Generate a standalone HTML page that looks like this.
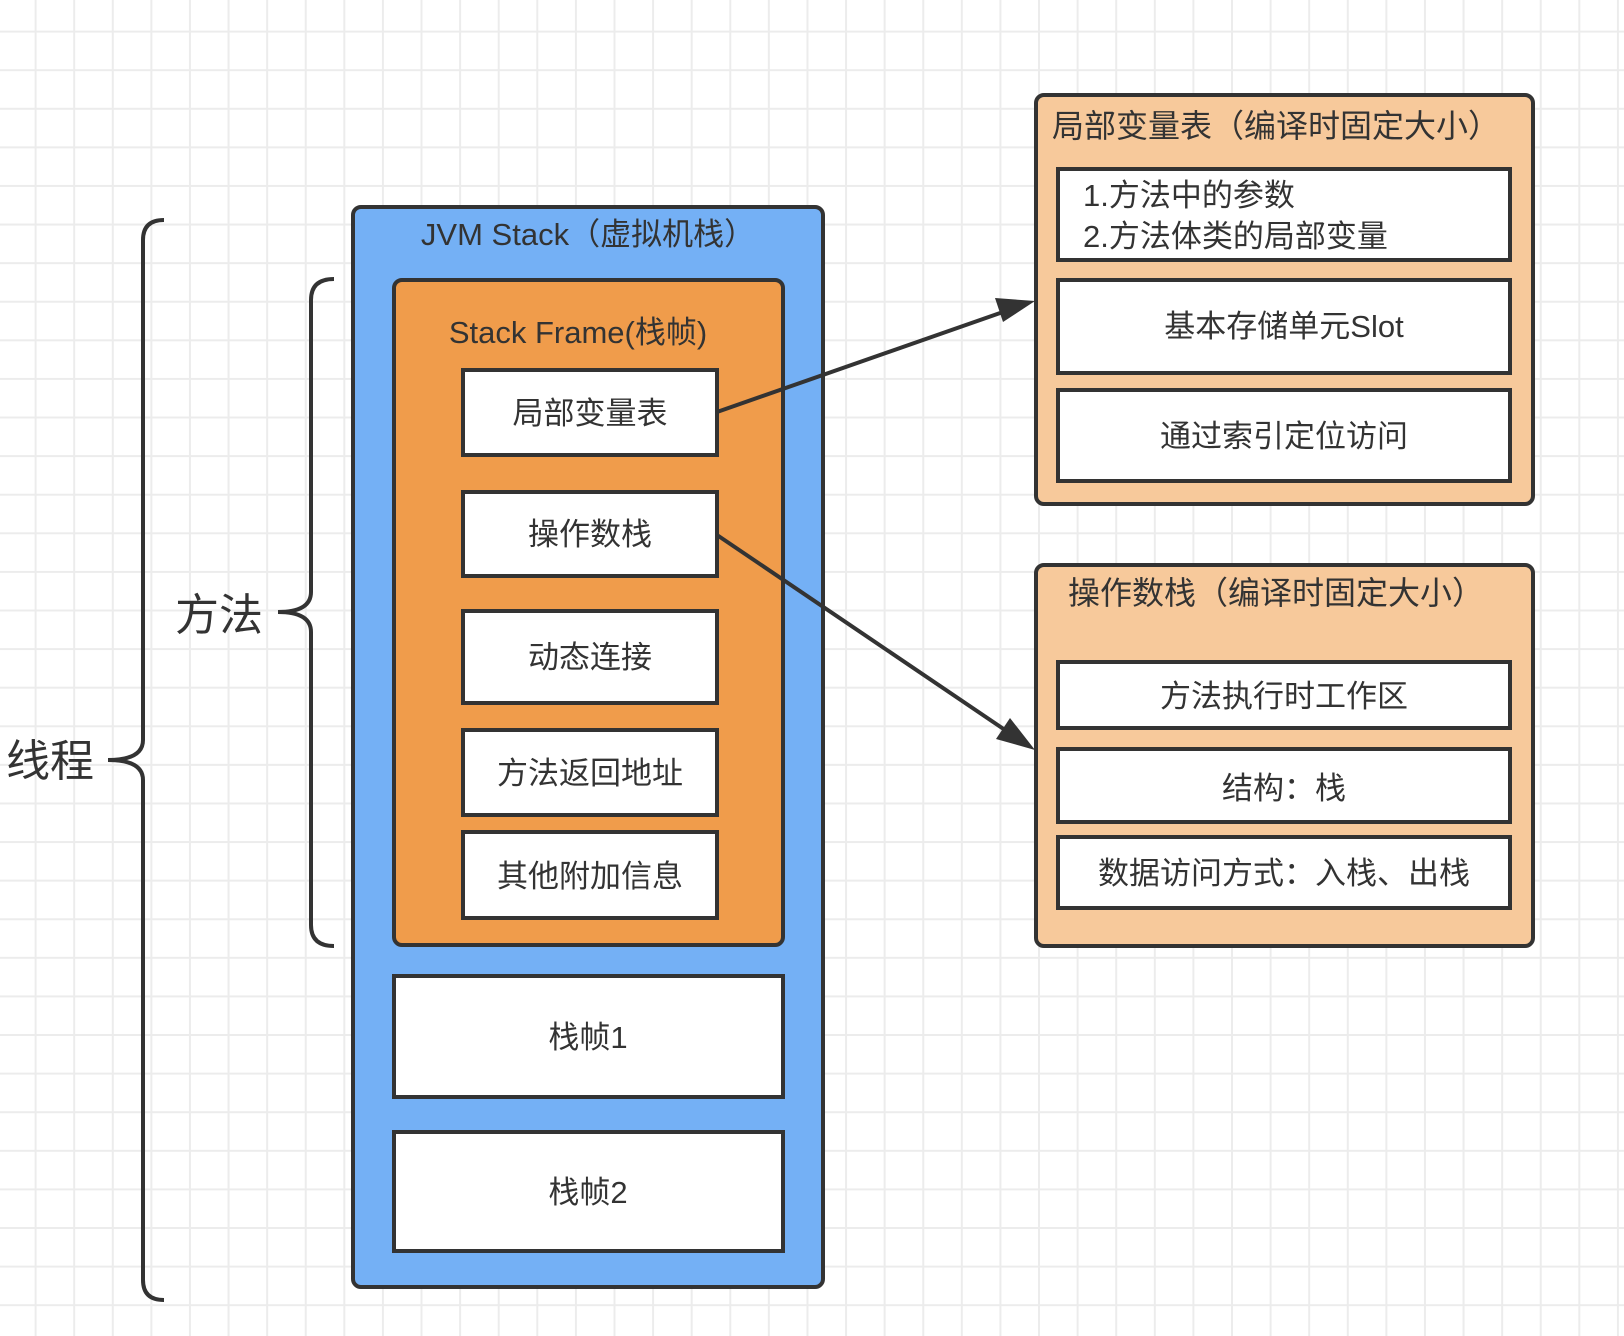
<!DOCTYPE html>
<html><head><meta charset="utf-8"><style>
html,body{margin:0;padding:0;}
body{width:1624px;height:1336px;overflow:hidden;background:#fff;
background-image:linear-gradient(to right,#ececec 2px,transparent 2px),linear-gradient(to bottom,#ececec 2px,transparent 2px);
background-size:38.6px 38.6px;background-position:-4px -8px;}
svg{position:absolute;left:0;top:0;}
text{font-family:"Liberation Sans","Noto Sans CJK SC",sans-serif;fill:#333;}
</style></head><body>
<svg width="1624" height="1336" viewBox="0 0 1624 1336">
<defs><marker id="ah" markerWidth="12" markerHeight="12" refX="10" refY="6" orient="auto" markerUnits="userSpaceOnUse"><path d="M0,0 L40,6 L0,12z" fill="#333" transform="scale(1)"/></marker></defs>
<!-- braces -->
<path d="M334 279 Q311 279 311 300 L311 592 Q311 612 278 612 Q311 612 311 632 L311 925 Q311 946 334 946" fill="none" stroke="#333" stroke-width="4"/>
<path d="M164 220 Q143 220 143 240 L143 740 Q143 760 108 760 Q143 760 143 780 L143 1280 Q143 1300 164 1300" fill="none" stroke="#333" stroke-width="4"/>
<text x="219" y="630" font-size="44" text-anchor="middle">方法</text>
<text x="50" y="776" font-size="44" text-anchor="middle">线程</text>
<!-- JVM stack -->
<rect x="353" y="207" width="470" height="1080" rx="8" fill="#74b0f5" stroke="#333" stroke-width="4"/>
<text x="588" y="245" font-size="31" text-anchor="middle">JVM Stack（虚拟机栈）</text>
<rect x="394" y="280" width="389" height="665" rx="8" fill="#f09c4b" stroke="#333" stroke-width="4"/>
<text x="578" y="343" font-size="31" text-anchor="middle">Stack Frame(栈帧)</text>
<g fill="#fff" stroke="#333" stroke-width="4">
<rect x="463" y="370" width="254" height="85"/>
<rect x="463" y="492" width="254" height="84"/>
<rect x="463" y="611" width="254" height="92"/>
<rect x="463" y="730" width="254" height="85"/>
<rect x="463" y="832" width="254" height="86"/>
<rect x="394" y="976" width="389" height="121"/>
<rect x="394" y="1132" width="389" height="119"/>
</g>
<g font-size="31" text-anchor="middle">
<text x="590" y="424">局部变量表</text>
<text x="590" y="545">操作数栈</text>
<text x="590" y="668">动态连接</text>
<text x="590" y="784">方法返回地址</text>
<text x="590" y="887">其他附加信息</text>
<text x="588" y="1048">栈帧1</text>
<text x="588" y="1203">栈帧2</text>
</g>
<!-- right boxes -->
<rect x="1036" y="95" width="497" height="409" rx="8" fill="#f7c99b" stroke="#333" stroke-width="4"/>
<text x="1052" y="137" font-size="32">局部变量表（编译时固定大小）</text>
<rect x="1036" y="565" width="497" height="381" rx="8" fill="#f7c99b" stroke="#333" stroke-width="4"/>
<text x="1068" y="604" font-size="32">操作数栈（编译时固定大小）</text>
<g fill="#fff" stroke="#333" stroke-width="4">
<rect x="1058" y="169" width="452" height="91"/>
<rect x="1058" y="280" width="452" height="93"/>
<rect x="1058" y="390" width="452" height="91"/>
<rect x="1058" y="662" width="452" height="66"/>
<rect x="1058" y="749" width="452" height="73"/>
<rect x="1058" y="837" width="452" height="71"/>
</g>
<g font-size="31">
<text x="1083" y="206">1.方法中的参数</text>
<text x="1083" y="247">2.方法体类的局部变量</text>
</g>
<g font-size="31" text-anchor="middle">
<text x="1284" y="337">基本存储单元Slot</text>
<text x="1284" y="447">通过索引定位访问</text>
<text x="1284" y="707">方法执行时工作区</text>
<text x="1284" y="799">结构：栈</text>
<text x="1284" y="884">数据访问方式：入栈、出栈</text>
</g>
<!-- arrows -->
<line x1="717" y1="412" x2="1003" y2="312" stroke="#333" stroke-width="4"/>
<path d="M1035 301 L995 298 L1003 322 Z" fill="#333"/>
<line x1="717" y1="535" x2="1008" y2="732" stroke="#333" stroke-width="4"/>
<path d="M1035 750 L1010 718 L996 739 Z" fill="#333"/>
</svg>
</body></html>
